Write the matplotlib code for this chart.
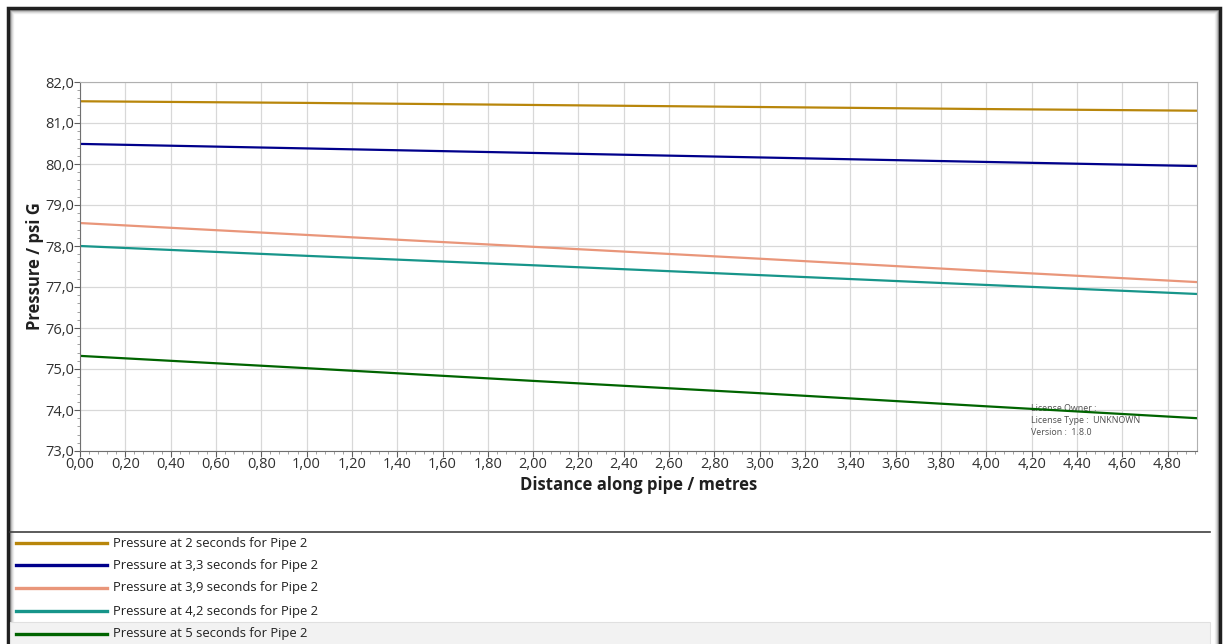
import numpy as np
import matplotlib.pyplot as plt
from matplotlib.ticker import AutoMinorLocator, FuncFormatter, MultipleLocator
from matplotlib.patches import Rectangle
from matplotlib.lines import Line2D

# distance along pipe (m) where values were read
distance = [0.00, 1.00, 2.00, 3.00, 4.00, 4.93]

p_2s = [81.53, 81.49, 81.44, 81.39, 81.34, 81.30]
p_3_3s = [80.49, 80.38, 80.27, 80.16, 80.05, 79.95]
p_3_9s = [78.56, 78.27, 77.98, 77.69, 77.39, 77.12]
p_4_2s = [78.00, 77.76, 77.53, 77.29, 77.05, 76.83]
p_5s = [75.32, 75.02, 74.71, 74.41, 74.09, 73.80]

series = [p_2s, p_3_3s, p_3_9s, p_4_2s, p_5s]
labels = ['Pressure at 2 seconds for Pipe 2',
          'Pressure at 3,3 seconds for Pipe 2',
          'Pressure at 3,9 seconds for Pipe 2',
          'Pressure at 4,2 seconds for Pipe 2',
          'Pressure at 5 seconds for Pipe 2']
colors = ['#B8860B', '#00008B', '#E9967A', '#17958A', '#006400']

plt.rcParams['font.family'] = ['Open Sans', 'DejaVu Sans']

W, H = 1224, 644
fig = plt.figure(figsize=(W / 100, H / 100), dpi=100)

# window frame
fig.patches.append(Rectangle((8 / W, -0.01), 1212 / W, 1 - 8 / H + 0.01,
                             transform=fig.transFigure, facecolor='white',
                             edgecolor='#202020', linewidth=2.5, zorder=-10))
for i, a in enumerate([0.35, 0.2, 0.1, 0.05]):
    fig.patches.append(Rectangle(((10 + i) / W, -0.01), (1208 - 2 * i) / W,
                                 1 - (10 + i) / H + 0.01,
                                 transform=fig.transFigure, fill=False,
                                 edgecolor=(0, 0, 0, a), linewidth=1, zorder=-9))

ax = fig.add_axes([80 / W, 1 - 451 / H, (1197 - 80) / W, (451 - 82) / H])

for vals, c, lab in zip(series, colors, labels):
    ax.plot(distance, vals, color=c, linewidth=1.6, label=lab)

ax.set_xlim(0, 4.93)
ax.set_ylim(73, 82)
ax.xaxis.set_major_locator(MultipleLocator(0.2))
ax.yaxis.set_major_locator(MultipleLocator(1.0))
ax.xaxis.set_minor_locator(AutoMinorLocator(5))
ax.yaxis.set_minor_locator(AutoMinorLocator(5))
ax.xaxis.set_major_formatter(FuncFormatter(lambda v, p: ('%.2f' % v).replace('.', ',')))
ax.yaxis.set_major_formatter(FuncFormatter(lambda v, p: ('%.1f' % v).replace('.', ',')))
ax.tick_params(which='major', length=4, width=0.8, color='#606060',
               labelsize=10.5, labelcolor='#303030', pad=0)
ax.tick_params(which='minor', length=2, width=0.6, color='#909090')
ax.grid(True, which='major', color='#D8D8D8', linewidth=0.9)
ax.set_axisbelow(True)
for s in ax.spines.values():
    s.set_color('#B0B0B0')
ax.spines['left'].set_color('#707070')
ax.spines['bottom'].set_color('#707070')

ax.set_xlabel('Distance along pipe / metres', fontsize=12, fontweight='bold',
              color='#202020', labelpad=3)
ax.set_ylabel('Pressure / psi G', fontsize=12, fontweight='bold',
              color='#202020', labelpad=1)

wm = ['License Owner :', 'License Type :  UNKNOWN', 'Version :  1.8.0']
for i, t in enumerate(wm):
    ax.text(0.851, 0.114 - i * 0.0325, t, transform=ax.transAxes,
            fontsize=6.4, color='#505050', va='center', zorder=1)

# legend panel below the chart
fig.add_artist(Line2D([10 / W, 1210 / W], [1 - 532 / H] * 2,
                      transform=fig.transFigure, color='#404040', linewidth=1.2))
fig.patches.append(Rectangle((10 / W, -0.01), 1200 / W, (644 - 622) / H + 0.01,
                             transform=fig.transFigure, facecolor='#F2F2F2',
                             edgecolor='#E0E0E0', linewidth=0.8, zorder=-5))
row_y = [543, 565, 588, 611, 634]
for ry, c, lab in zip(row_y, colors, labels):
    yy = 1 - ry / H
    fig.add_artist(Line2D([16 / W, 107 / W], [yy, yy], transform=fig.transFigure,
                          color=c, linewidth=2.4))
    fig.text(113 / W, yy, lab, fontsize=9.4, color='#202020', va='center')

fig.savefig('out.png', dpi=100)
